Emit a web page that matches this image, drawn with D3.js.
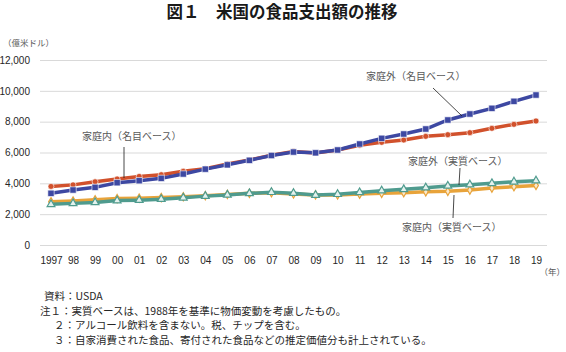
<!DOCTYPE html>
<html>
<head>
<meta charset="utf-8">
<title>図1 米国の食品支出額の推移</title>
<script src="https://d3js.org/d3.v7.min.js"></script>
<style>
  body { margin: 0; background: #fff; }
  svg { display: block; font-family: "Liberation Sans", "Noto Sans CJK JP", sans-serif; }
  .grid line { stroke: #d9d9d9; stroke-width: 1px; }
  .tick text { fill: #262626; font-size: 10px; }
  .lbl { fill: #595959; font-size: 10px; font-family: "Noto Sans CJK JP", sans-serif; }
  .note { fill: #262626; font-size: 10.5px; font-family: "Noto Sans CJK JP", sans-serif; }
</style>
</head>
<body>
<div id="viz"></div>
<script>
// data (億米ドル)
var years = ["1997","98","99","00","01","02","03","04","05","06","07","08","09","10","11","12","13","14","15","16","17","18","19"];
var outNominal = [3353,3567,3740,4041,4171,4323,4605,4920,5200,5492,5805,6030,5980,6162,6551,6918,7200,7524,8108,8497,8865,9319,9729];
var inNominal  = [3800,3900,4100,4280,4450,4560,4780,4950,5250,5510,5816,6060,5967,6162,6465,6659,6811,7049,7156,7287,7567,7826,8043];
var outReal    = [2640,2700,2760,2880,2910,2970,3060,3170,3250,3350,3420,3360,3240,3290,3410,3520,3610,3720,3830,3910,4000,4100,4170];
var inReal     = [2800,2850,2930,3010,3040,3080,3130,3200,3280,3350,3390,3310,3250,3250,3300,3350,3390,3450,3480,3560,3690,3780,3860];
var yTicks = [0, 2000, 4000, 6000, 8000, 10000, 12000];

var width = 566, height = 352;

var svg = d3.select("#viz").append("svg")
    .attr("width", width)
    .attr("height", height);

var x = d3.scalePoint().domain(years).range([51, 536]);
var y = d3.scaleLinear().domain([0, 12000]).range([245, 60]);

// title
svg.append("text")
    .attr("x", 282).attr("y", 18)
    .attr("text-anchor", "middle")
    .style("font-family", "'Noto Sans CJK JP', sans-serif")
    .style("font-weight", 700)
    .style("font-size", "16.5px")
    .style("fill", "#1a1a1a")
    .text("図１　米国の食品支出額の推移");

svg.append("text")
    .attr("class", "lbl")
    .attr("x", 3).attr("y", 46)
    .style("font-size", "8.5px")
    .text("（億米ドル）");

// gridlines + y labels
var yAxis = svg.append("g")
    .attr("class", "grid")
    .attr("transform", "translate(40,0)")
    .call(d3.axisLeft(y).tickValues(yTicks).tickSize(-507).tickPadding(10).tickFormat(d3.format(",")));
yAxis.select(".domain").remove();

// x labels
var xAxis = svg.append("g")
    .attr("transform", "translate(0,245)")
    .call(d3.axisBottom(x).tickSize(0).tickPadding(12));
xAxis.select(".domain").remove();

svg.append("text")
    .attr("class", "lbl")
    .attr("x", 565).attr("y", 275)
    .attr("text-anchor", "end")
    .style("font-size", "8.5px")
    .text("（年）");

var series = [
  { values: inReal,     color: "#e8a33a", marker: d3.symbolDiamond,  size: 20, fill: "#fbe9cc" },
  { values: outReal,    color: "#4f9b8e", marker: d3.symbolTriangle, size: 26, fill: "#e4f2ee" },
  { values: inNominal,  color: "#d1512c", marker: d3.symbolCircle,   size: 28, fill: "#d1512c" },
  { values: outNominal, color: "#3d48a2", marker: d3.symbolSquare,   size: 40, fill: "#3d48a2" }
];

var line = d3.line()
    .x(function(d, i) { return x(years[i]); })
    .y(function(d) { return y(d); });

series.forEach(function(s) {
  svg.append("path")
      .datum(s.values)
      .attr("d", line)
      .attr("fill", "none")
      .attr("stroke", s.color)
      .attr("stroke-width", 3.5);
  svg.selectAll(null)
      .data(s.values)
      .enter().append("path")
      .attr("transform", function(d, i) { return "translate(" + x(years[i]) + "," + y(d) + ")"; })
      .attr("d", d3.symbol().type(s.marker).size(s.size))
      .attr("fill", s.fill)
      .attr("stroke", s.fill === s.color ? "#fff" : s.color)
      .attr("stroke-width", s.fill === s.color ? 0.6 : 1.2);
});

// series labels with leader lines
var labels = [
  { text: "家庭内（名目ベース）", x: 82,  y: 140, line: [124, 147, 124, 178] },
  { text: "家庭外（名目ベース）", x: 366, y: 80,  line: [433, 88, 462, 116] },
  { text: "家庭外（実質ベース）", x: 408, y: 165, line: [460, 168, 459, 185] },
  { text: "家庭内（実質ベース）", x: 402, y: 231, line: [453, 218, 454, 195] }
];
labels.forEach(function(l) {
  svg.append("line")
      .attr("x1", l.line[0]).attr("y1", l.line[1])
      .attr("x2", l.line[2]).attr("y2", l.line[3])
      .attr("stroke", "#1a1a1a").attr("stroke-width", 0.8);
  svg.append("text")
      .attr("class", "lbl")
      .attr("x", l.x).attr("y", l.y)
      .text(l.text);
});

// notes
var notes = [
  { x: 44, t: "資料：USDA" },
  { x: 40, t: "注１：実質ベースは、1988年を基準に物価変動を考慮したもの。" },
  { x: 54, t: "２：アルコール飲料を含まない。税、チップを含む。" },
  { x: 54, t: "３：自家消費された食品、寄付された食品などの推定価値分も計上されている。" }
];
svg.selectAll(".note")
    .data(notes)
    .enter().append("text")
    .attr("class", "note")
    .attr("x", function(d) { return d.x; })
    .attr("y", function(d, i) { return 300 + i * 14.6; })
    .text(function(d) { return d.t; });
</script>
</body>
</html>
